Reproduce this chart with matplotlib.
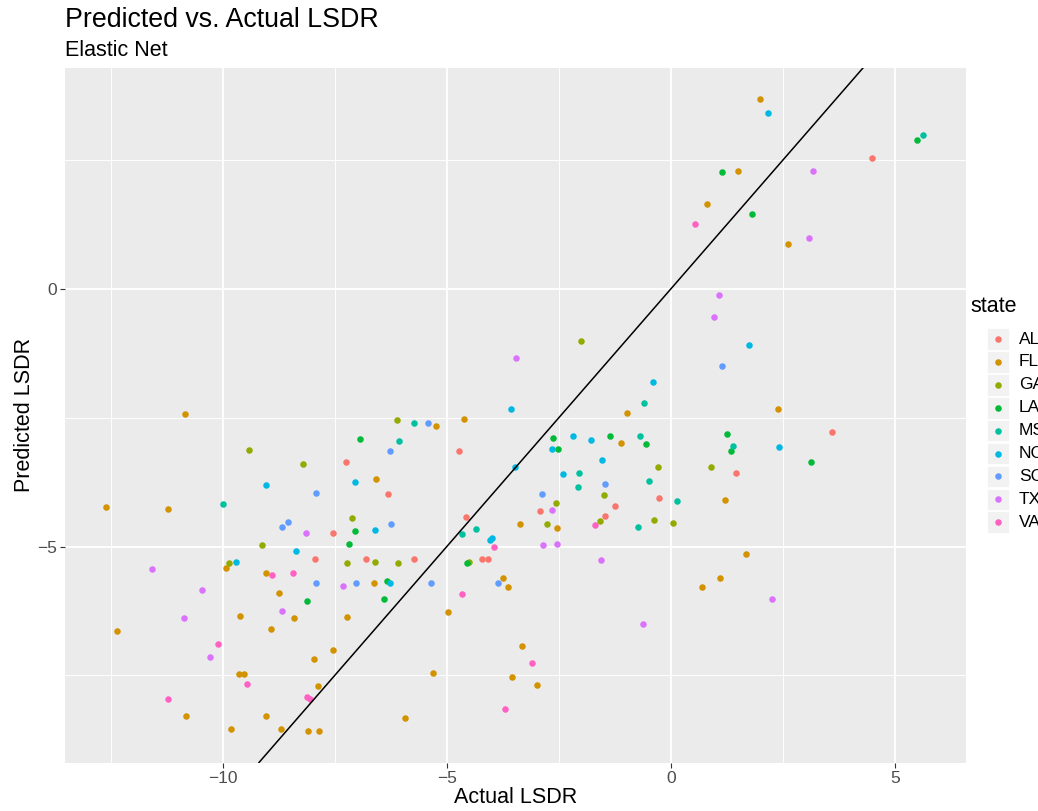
import matplotlib
matplotlib.use("Agg")
import matplotlib.pyplot as plt
from matplotlib.patches import Rectangle
from matplotlib.lines import Line2D
from matplotlib.ticker import MultipleLocator

plt.rcParams['font.family'] = ['Liberation Sans', 'DejaVu Sans']

# actual vs predicted LSDR, by state
al_actual = [4.50, 3.61, 1.46, -4.73, -6.32, -0.26, -1.25, -2.92, -1.46, -4.57, -6.80, -5.74, -4.21, -4.08, -7.53, -7.94, -7.24]
al_pred = [2.55, -2.78, -3.57, -3.15, -3.97, -4.06, -4.22, -4.31, -4.41, -4.42, -5.24, -5.24, -5.24, -5.24, -4.74, -5.24, -3.35]

fl_actual = [1.99, 1.49, 0.82, 2.61, 2.39, 1.21, 1.69, 1.11, 0.70, -0.97, -4.62, -5.24, -1.11, -6.57, -3.37, -2.53,
             -6.63, -3.74, -3.63, -4.98, -3.31, -5.31, -3.55, -2.99, -5.93, -9.92, -9.04, -8.75, -9.62, -8.40, -7.23,
             -12.37, -8.92, -7.54, -7.97, -9.63, -9.52, -7.88, -10.82, -9.04, -9.81, -8.69, -8.10, -7.85, -10.84,
             -12.61, -11.22]
fl_pred = [3.68, 2.30, 1.65, 0.87, -2.32, -4.10, -5.15, -5.61, -5.79, -2.40, -2.52, -2.65, -2.98, -3.68, -4.56, -4.63,
           -5.70, -5.61, -5.79, -6.26, -6.93, -7.45, -7.53, -7.69, -8.33, -5.41, -5.51, -5.90, -6.34, -6.38, -6.37,
           -6.63, -6.59, -7.00, -7.19, -7.48, -7.48, -7.70, -8.29, -8.29, -8.54, -8.54, -8.58, -8.58, -2.42,
           -4.23, -4.27]

ga_actual = [0.89, 0.06, -2.00, -6.10, -0.29, -1.49, -2.56, -2.76, -1.59, -0.38, -6.59, -6.08, -4.50, -9.12, -7.22, -9.87, -9.41, -8.20, -7.12]
ga_pred = [-3.46, -4.54, -1.01, -2.54, -3.46, -3.99, -4.16, -4.56, -4.51, -4.48, -5.29, -5.31, -5.29, -4.96, -5.32, -5.32, -3.13, -3.40, -4.44]

la_actual = [5.50, 1.14, 1.81, 1.25, 1.34, 3.12, -2.62, -1.36, -0.55, -2.51, -4.54, -6.33, -6.40, -7.05, -7.18, -8.12, -6.94]
la_pred = [2.90, 2.28, 1.46, -2.81, -3.15, -3.35, -2.89, -2.86, -3.00, -3.11, -5.31, -5.66, -6.02, -4.69, -4.95, -6.05, -2.91]

ms_actual = [5.64, 1.38, 0.14, -0.59, -5.73, -6.07, -0.69, -2.04, -2.07, -0.48, -4.35, -0.74, -4.65, -9.99]
ms_pred = [2.98, -3.04, -4.12, -2.21, -2.61, -2.95, -2.85, -3.58, -3.84, -3.72, -4.65, -4.62, -4.76, -4.18]

nc_actual = [2.18, 1.75, 2.42, -0.39, -3.57, -2.18, -1.77, -2.65, -1.54, -3.47, -2.40, -6.59, -4.00, -4.03, -6.27, -8.37, -9.71, -9.03, -7.05]
nc_pred = [3.42, -1.09, -3.07, -1.80, -2.32, -2.85, -2.93, -3.10, -3.31, -3.45, -3.59, -4.68, -4.83, -4.87, -5.71, -5.09, -5.29, -3.80, -3.75]

sc_actual = [1.14, -5.41, -6.27, -1.46, -2.88, -6.24, -5.36, -3.86, -7.92, -7.03, -7.91, -8.54, -8.67]
sc_pred = [-1.49, -2.60, -3.14, -3.79, -3.97, -4.56, -5.70, -5.70, -5.70, -5.71, -3.96, -4.53, -4.61]

tx_actual = [3.17, 3.08, 1.08, 0.97, 2.27, -3.45, -2.64, -2.85, -2.53, -1.56, -0.61, -8.13, -11.57, -7.32, -10.47, -10.87, -8.68, -10.28]
tx_pred = [2.30, 1.00, -0.11, -0.54, -6.01, -1.34, -4.29, -4.97, -4.95, -5.26, -6.51, -4.74, -5.43, -5.77, -5.85, -6.38, -6.25, -7.15]

va_actual = [0.55, -1.70, -3.94, -4.65, -3.10, -3.71, -8.91, -8.42, -10.11, -9.45, -8.12, -8.05, -11.21]
va_pred = [1.26, -4.58, -5.00, -5.92, -7.26, -8.15, -5.55, -5.51, -6.89, -7.66, -7.92, -7.96, -7.96]

states = ["AL", "FL", "GA", "LA", "MS", "NC", "SC", "TX", "VA"]
colors = ["#F8766D", "#D39200", "#93AA00", "#00BA38", "#00C19F", "#00B9E3", "#619CFF", "#DB72FB", "#FF61C3"]
series = [(al_actual, al_pred), (fl_actual, fl_pred), (ga_actual, ga_pred), (la_actual, la_pred),
          (ms_actual, ms_pred), (nc_actual, nc_pred), (sc_actual, sc_pred), (tx_actual, tx_pred),
          (va_actual, va_pred)]

W, H = 1038, 811
fig = plt.figure(figsize=(W / 100, H / 100), dpi=100)

# panel placed in pixel terms
L, R, T, B = 65, 966, 68, 762.5
ax = fig.add_axes([L / W, (H - B) / H, (R - L) / W, (B - T) / H])
ax.set_facecolor("#EBEBEB")
for s in ax.spines.values():
    s.set_visible(False)

ax.set_xlim(-13.52, 6.59)
ax.set_ylim(-9.19, 4.29)
ax.xaxis.set_major_locator(MultipleLocator(5))
ax.yaxis.set_major_locator(MultipleLocator(5))
ax.xaxis.set_minor_locator(MultipleLocator(2.5))
ax.yaxis.set_minor_locator(MultipleLocator(2.5))
ax.grid(which="major", color="white", lw=1.3)
ax.grid(which="minor", color="white", lw=0.65)
ax.set_axisbelow(True)
ax.tick_params(which="major", length=3.5, width=0.8, color="#333333", labelcolor="#4D4D4D",
               labelsize=12.5, pad=2.5)
ax.tick_params(which="minor", length=0)

for (xs, ys), c in zip(series, colors):
    ax.scatter(xs, ys, s=22, color=c, linewidths=0, zorder=3)

# identity line
ax.axline((0, 0), slope=1, color="black", lw=1.1, zorder=4)

ax.set_xlabel("Actual LSDR", fontsize=15.5, labelpad=1)
ax.set_ylabel("Predicted LSDR", fontsize=15.5, labelpad=1)

fig.text(L / W, 1 - 20 / H, "Predicted vs. Actual LSDR", fontsize=19.3, va="center", ha="left")
fig.text(L / W, 1 - 50 / H, "Elastic Net", fontsize=15.5, va="center", ha="left")

# legend
def px(x, y):
    return x / W, 1 - y / H

fig.text(*px(970, 307), "state", fontsize=15.5, va="center", ha="left")
for i, (st, c) in enumerate(zip(states, colors)):
    yc = 339 + i * 22.9
    x0, y0 = px(987, yc + 10.8)
    fig.add_artist(Rectangle((x0, y0), 21.6 / W, 21.6 / H, transform=fig.transFigure,
                             facecolor="#F2F2F2", edgecolor="white", lw=0.6))
    fig.add_artist(Line2D([px(997.8, yc)[0]], [px(997.8, yc)[1]], transform=fig.transFigure,
                          marker="o", ms=4.7, color=c, mew=0, ls="none"))
    fig.text(*px(1019, yc), st, fontsize=12.5, va="center", ha="left")

fig.savefig("out.png", dpi=100)
